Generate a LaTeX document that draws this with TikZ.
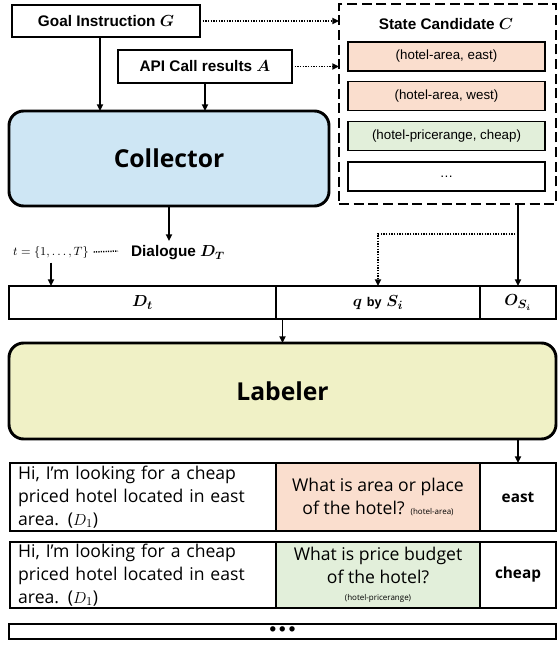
\documentclass[tikz,border=0pt]{standalone}
\usepackage{amsmath,amssymb}
\usepackage{bm}
\usepackage{fontspec}
\setmainfont{Liberation Sans}
\newfontfamily\kfont{Open Sans}
\usetikzlibrary{arrows.meta,positioning}

\definecolor{collblue}{RGB}{206,230,244}
\definecolor{labyellow}{RGB}{240,241,198}
\definecolor{candpink}{RGB}{250,222,206}
\definecolor{candgreen}{RGB}{226,239,218}

\begin{document}
\begin{tikzpicture}[x=0.75pt, y=-0.75pt,
    box/.style={rectangle, draw=black, line width=1.4pt, outer sep=0pt,
                inner sep=0pt, align=center,
                font=\fontsize{11.5}{13}\selectfont\bfseries},
    cand/.style={box, minimum width=147.75pt, minimum height=21.75pt,
                 font=\fontsize{10}{12}\selectfont},
    big/.style={rectangle, draw=black, line width=2.2pt, rounded corners=11pt,
                outer sep=0pt, font=\kfont\fontsize{18.5}{22}\selectfont\bfseries},
    cell/.style={rectangle, draw=black, line width=1.4pt, outer sep=0pt,
                 inner sep=0pt, align=center, font=\fontsize{13}{15}\selectfont},
    txt/.style={font=\kfont\fontsize{13.2}{17}\selectfont},
    arr/.style={-{Triangle[length=5pt, width=4.5pt]}, line width=1.2pt},
    dotarr/.style={-{Triangle[length=5pt, width=4.5pt]}, line width=1.2pt,
                   dash pattern=on 1pt off 1pt},
    head/.style={font=\fontsize{11.5}{13}\selectfont\bfseries, align=center}
  ]
  \useasboundingbox (0,0) rectangle (558,650);

  %% ── inputs and collector ───────────────────────────────────────────
  \node[box, minimum width=141pt, minimum height=24pt]    (goal) at (106,21)   {Goal Instruction $\bm{G}$};
  \node[box, minimum width=130.5pt, minimum height=24.75pt] (api) at (205,66.5) {API Call results $\bm{A}$};
  \node[big, fill=collblue, minimum width=240pt, minimum height=71.25pt] (coll) at (169,158.5) {Collector};

  %% ── state candidates ───────────────────────────────────────────────
  \node[draw, line width=2.2pt, dash pattern=on 7.5pt off 3.5pt,
        minimum width=162.75pt, minimum height=150pt, outer sep=0pt] (sc) at (447.5,104) {};
  \node[head]                  (sctitle) at (446,24)    {State Candidate $\bm{C}$};
  \node[cand, fill=candpink]   (c1)      at (446.5,56.5) {(hotel-area, east)};
  \node[cand, fill=candpink]   (c2)      at (446.5,96)   {(hotel-area, west)};
  \node[cand, fill=candgreen]  (c3)      at (446.5,136)  {(hotel-pricerange, cheap)};
  \node[cand]                  (c4)      at (446.5,176.5) {\dots};

  \draw[dotarr] (goal.east) -- (goal.east -| sc.west);
  \draw[dotarr] (api.east) -- (api.east -| sc.west);
  \draw[arr] ([xshift=-4.5pt]goal.south) -- ([xshift=-4.5pt]goal.south |- coll.north);
  \draw[arr] (api.south) -- (api.south |- coll.north);

  %% ── dialogue turns ─────────────────────────────────────────────────
  \node[head]                                (dlg)  at (178,253) {Dialogue $\bm{D_T}$};
  \node[font=\fontsize{9.5}{11}\selectfont]  (tlab) at (51,252)  {$t=\{1,\dots,T\}$};
  \coordinate (tdot) at (118,251);
  \draw[line width=1.1pt, dash pattern=on 0.9pt off 0.9pt] (tlab.east) -- (tdot);
  \draw[arr] (coll.south) -- (coll.south |- dlg.north);

  %% ── labeler input row ──────────────────────────────────────────────
  \node[cell, minimum width=200.25pt, minimum height=24.75pt] (dt) at (142.5,302.5) {$\bm{D_t}$};
  \node[cell, minimum width=153pt, minimum height=24.75pt]    (q)  at (378,302.5)   {$\bm{q}$ {\fontsize{9.5}{11}\selectfont\bfseries by} $\bm{S_i}$};
  \node[cell, minimum width=57pt, minimum height=24.75pt]     (o)  at (518,302.5)   {$\bm{O_{S_i}}$};
  \coordinate (br) at (518,234);
  \draw[arr] (tlab.south) -- (tlab.south |- dt.north);
  \draw[arr] (o.north |- sc.south) -- (o.north);
  \draw[dotarr] (br) -| (q.north);

  %% ── labeler ────────────────────────────────────────────────────────
  \node[big, fill=labyellow, minimum width=410.25pt, minimum height=72pt] (lab) at (282.5,391) {Labeler};
  \draw[arr] (lab.north |- dt.south) -- (lab.north);

  %% ── labelled examples ──────────────────────────────────────────────
  \node[cell, txt, minimum width=200.25pt, minimum height=51pt, text width=188pt, align=left]
        (d1) at (143.5,497) {Hi, I’m looking for a cheap\\ priced hotel located in east\\ area. ($D_1$)};
  \node[cell, txt, fill=candpink, minimum width=153pt, minimum height=51pt]
        (q1) at (378,497) {What is area or place\\ of the hotel? {\fontsize{6}{7}\selectfont (hotel-area)}};
  \node[cell, minimum width=57pt, minimum height=51pt, font=\kfont\fontsize{11.5}{14}\selectfont\bfseries]
        (o1) at (518,497) {east};
  \draw[arr] (o1.north |- lab.south) -- (o1.north);

  \node[cell, txt, minimum width=200.25pt, minimum height=49.5pt, text width=188pt, align=left]
        (d2) at (143.5,575) {Hi, I’m looking for a cheap\\ priced hotel located in east\\ area. ($D_1$)};
  \node[cell, txt, fill=candgreen, minimum width=153pt, minimum height=49.5pt]
        (q2) at (378,575) {What is price budget\\ of the hotel?\\[-4pt] {\fontsize{6}{7}\selectfont (hotel-pricerange)}};
  \node[cell, minimum width=57pt, minimum height=49.5pt, font=\kfont\fontsize{11.5}{14}\selectfont\bfseries]
        (o2) at (518,575) {cheap};

  \node[cell, minimum width=410.25pt, minimum height=11.25pt, font=\fontsize{14}{12}\selectfont\bfseries]
        (more) at (282.5,631.5) {\textbullet\,\textbullet\,\textbullet};

\end{tikzpicture}
\end{document}
